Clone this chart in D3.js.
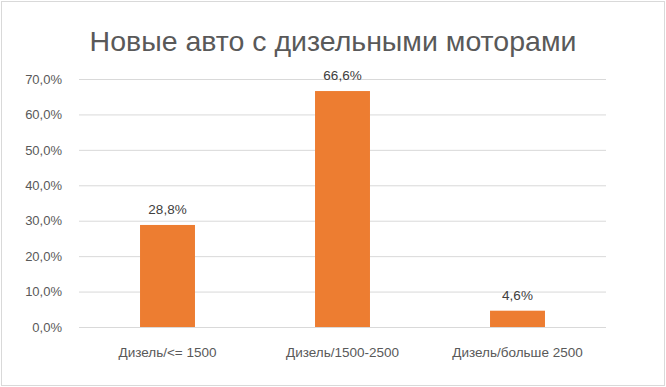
<!DOCTYPE html>
<html>
<head>
<meta charset="utf-8">
<script src="https://cdnjs.cloudflare.com/ajax/libs/d3/7.8.5/d3.min.js"></script>
<style>
  body { margin: 0; background: #fff; }
  text { font-family: "Liberation Sans", Arial, sans-serif; }
</style>
</head>
<body>
<svg class="chart"></svg>
<script>
// data
var categories = ["Дизель/<= 1500", "Дизель/1500-2500", "Дизель/больше 2500"];
var values = [0.288, 0.666, 0.046];
var labels = ["28,8%", "66,6%", "4,6%"];
var yTicks = [0, 0.1, 0.2, 0.3, 0.4, 0.5, 0.6, 0.7];
var title = "Новые авто с дизельными моторами";

var width = 666, height = 387;
var plotLeft = 80, plotRight = 605, plotTop = 79, plotBottom = 327;

var svg = d3.select(".chart")
    .attr("width", width)
    .attr("height", height);

// outer border
svg.append("rect")
    .attr("x", 1.5).attr("y", 1.5)
    .attr("width", width - 3).attr("height", height - 3)
    .attr("fill", "#fff")
    .attr("stroke", "#d9d9d9");

var x = d3.scaleBand()
    .domain(categories)
    .range([plotLeft, plotRight])
    .paddingInner(0.686)
    .paddingOuter(0.343);

var y = d3.scaleLinear()
    .domain([0, 0.7])
    .range([plotBottom, plotTop]);

var fmt = function(d) { return (d * 100).toFixed(1).replace(".", ",") + "%"; };

// gridlines + y labels
var yAxis = svg.append("g")
    .attr("transform", "translate(" + (plotLeft - 1) + ",0)")
    .call(d3.axisLeft(y).tickValues(yTicks).tickFormat(fmt)
        .tickSize(-(plotRight - plotLeft + 2)).tickPadding(17));
yAxis.select(".domain").remove();
yAxis.selectAll("line").attr("stroke", "#d9d9d9");
yAxis.selectAll("text")
    .attr("fill", "#595959")
    .style("font-size", "13px")
    .style("font-family", "'Liberation Sans', Arial, sans-serif");

// bars
svg.append("g")
    .selectAll("rect")
    .data(values)
    .enter().append("rect")
    .attr("x", function(d, i) { return x(categories[i]); })
    .attr("y", function(d) { return y(d); })
    .attr("width", x.bandwidth())
    .attr("height", function(d) { return plotBottom - y(d); })
    .attr("fill", "#ed7d31");

// data labels
svg.append("g")
    .selectAll("text")
    .data(values)
    .enter().append("text")
    .attr("x", function(d, i) { return x(categories[i]) + x.bandwidth() / 2; })
    .attr("y", function(d) { return y(d) - 11; })
    .attr("text-anchor", "middle")
    .attr("fill", "#404040")
    .style("font-size", "13.5px")
    .text(function(d, i) { return labels[i]; });

// x axis
var xAxis = svg.append("g")
    .attr("transform", "translate(0," + plotBottom + ")")
    .call(d3.axisBottom(x).tickSize(0).tickPadding(20));
xAxis.select(".domain").attr("stroke", "#d9d9d9");
xAxis.selectAll("text")
    .attr("fill", "#595959")
    .style("font-size", "13.5px")
    .style("font-family", "'Liberation Sans', Arial, sans-serif");

// title
svg.append("text")
    .attr("x", width / 2)
    .attr("y", 51)
    .attr("text-anchor", "middle")
    .attr("fill", "#595959")
    .style("font-size", "28.5px")
    .text(title);
</script>
</body>
</html>
